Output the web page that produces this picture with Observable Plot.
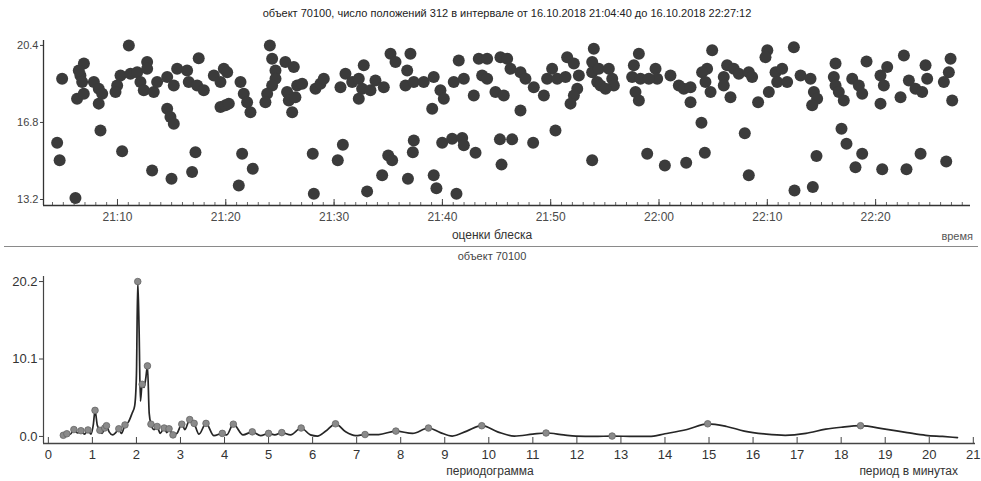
<!DOCTYPE html>
<html><head><meta charset="utf-8">
<script src="https://cdn.jsdelivr.net/npm/d3@7"></script>
<script src="https://cdn.jsdelivr.net/npm/@observablehq/plot@0.6"></script>
<style>
body{margin:0;background:#fff;font-family:"Liberation Sans",Arial,sans-serif;color:#333;}
#wrap{position:relative;width:981px;height:481px;overflow:hidden;background:#fff;}
#wrap svg{position:absolute;left:0;}
.lbl{position:absolute;white-space:nowrap;line-height:1;}
#sep{position:absolute;left:4px;width:974px;top:246px;height:0;border-top:1.5px solid #8a8a8a;}
</style></head><body><div id="wrap"><div id="sep"></div></div>
<script>
// ---------- brightness estimates (minutes after 21:00, magnitude) ----------
const brightMinute = [
11.05,17.5,6.9,12.74,4.89,6.58,6.43,6.74,7.82,8.27,8.59,6.27,6.89,8.27,8.43,10.28,9.97,9.82,11.2,11.82,
12.12,12.43,13.35,12.74,13.66,14.59,15.51,15.2,16.43,16.58,17.36,17.97,18.9,19.51,19.82,14.59,14.89,15.2,19.51,19.97,
4.43,4.66,6.12,10.43,13.2,14.99,16.89,17.2,
24.07,24.28,25.5,26.28,24.59,24.59,24.28,23.82,23.66,20.13,20.28,21.36,21.66,21.97,22.28,25.66,25.82,26.13,26.59,27.05,
26.43,28.28,28.74,29.05,31.05,30.59,31.67,32.28,32.74,32.59,32.28,33.36,33.82,34.59,35.21,35.67,37.05,36.75,36.59,
21.51,22.49,21.2,28.03,28.13,30.81,30.34,33.05,35.0,35.36,34.44,36.82,37.36,37.27,
37.36,38.28,39.2,39.82,40.13,39.06,41.51,41.05,41.98,42.9,43.36,44.13,43.67,44.13,44.9,45.67,45.36,45.98,46.29,47.21,
47.67,48.44,49.37,47.21,50.13,49.67,50.6,51.37,51.52,52.14,52.6,52.45,52.14,51.83,53.98,53.83,53.83,54.29,
39.2,39.45,41.3,39.98,40.9,41.83,41.98,43.06,45.31,46.44,45.46,48.38,50.44,53.83,
54.44,54.6,55.37,55.68,55.83,55.06,58.14,57.68,57.52,58.29,57.83,58.14,59.68,59.83,59.06,61.06,61.83,62.29,62.91,62.91,
64.91,64.44,63.98,64.29,64.76,66.29,65.98,65.98,66.9,67.37,68.29,68.6,66.6,70.0,69.83,70.76,70.91,70.14,69.15,
58.91,60.54,62.51,64.23,63.92,67.92,68.29,
72.45,71.37,71.83,73.07,73.99,74.3,74.6,74.14,76.3,76.14,76.3,76.6,77.06,77.84,78.45,78.76,79.16,80.45,81.07,80.76,
80.45,82.61,82.3,83.07,83.68,84.3,84.76,84.61,86.92,86.76,86.3,87.07,
76.85,77.31,78.76,78.14,80.61,82.85,84.15,86.52,74.54,72.51,74.2
];
const brightMag = [
20.4,19.8,19.55,19.62,18.84,19.0,19.23,18.69,18.69,18.38,18.14,17.91,18.14,17.68,16.43,19.0,18.53,18.22,19.08,19.15,
18.69,18.3,18.22,19.31,18.69,18.92,19.31,18.53,19.23,18.69,18.53,18.3,19.0,18.69,19.31,17.44,17.05,16.74,17.52,17.6,
15.85,15.03,13.27,15.45,14.56,14.17,14.48,15.41,
20.4,19.78,19.62,19.39,19.23,18.84,18.53,18.14,17.75,19.15,17.68,18.69,18.14,17.75,17.28,18.22,17.83,17.28,18.53,18.61,
17.98,18.38,18.61,18.84,19.08,18.45,18.69,18.84,19.47,18.38,17.91,18.3,18.76,18.45,20.01,19.62,20.01,19.23,18.53,
15.34,14.64,13.86,15.34,13.47,15.76,15.03,13.58,15.26,15.03,14.33,14.17,15.96,15.41,
18.69,18.69,18.92,18.3,17.91,17.44,19.7,18.69,18.84,18.06,19.78,19.78,19.0,18.84,18.22,18.06,19.85,19.78,19.31,19.15,
18.84,18.45,18.06,17.36,19.31,18.84,18.84,18.92,19.85,19.55,19.0,18.38,18.06,17.68,20.24,19.62,19.15,18.69,
14.33,13.73,13.47,15.85,16.04,16.07,15.73,15.39,16.01,16.01,14.83,15.85,16.43,15.03,
19.31,18.53,19.31,18.84,18.53,18.38,20.01,19.47,18.92,18.84,18.22,17.83,19.31,18.84,18.84,19.0,18.53,18.38,18.45,17.75,
20.17,19.31,19.15,18.69,18.22,19.47,18.92,18.53,19.31,19.08,19.15,18.92,17.98,20.17,19.85,19.15,18.69,18.22,17.75,
15.34,14.79,14.92,15.39,16.79,16.3,14.33,
20.32,19.31,18.69,19.0,18.84,18.22,17.91,17.6,19.55,18.92,18.53,18.22,17.83,18.84,18.53,18.14,19.65,19.0,19.39,18.53,
17.68,19.93,17.98,18.76,18.38,18.22,18.84,19.47,19.78,19.15,18.69,17.83,
16.51,15.81,15.34,14.71,14.61,14.61,15.34,14.98,15.23,13.62,13.78
];
const topYTicks = [13.2, 16.8, 20.4];
const topXTickMinutes = [10, 20, 30, 40, 50, 60, 70, 80];
const topXTickLabels = ["21:10","21:20","21:30","21:40","21:50","22:00","22:10","22:20"];

// ---------- periodogram ----------
const periodMin = [
0.34,0.42,0.50,0.58,0.66,0.74,0.82,0.90,0.97,1.02,1.06,1.11,1.17,1.22,1.28,1.32,1.38,1.46,1.53,1.60,
1.66,1.74,1.82,1.90,1.96,2.00,2.03,2.06,2.09,2.13,2.17,2.21,2.25,2.29,2.33,2.40,2.47,2.54,2.63,2.69,
2.74,2.83,2.92,3.03,3.10,3.21,3.31,3.42,3.58,3.76,3.95,4.05,4.20,4.42,4.63,4.82,5.00,5.14,5.30,5.50,
5.74,5.95,6.11,6.30,6.52,6.75,6.98,7.19,7.50,7.89,8.27,8.63,8.90,9.17,9.50,9.84,10.20,10.58,11.00,11.30,
11.70,11.98,12.40,12.80,13.30,13.64,14.00,14.50,14.97,15.40,15.80,16.30,16.73,17.20,17.65,18.00,18.44,19.00,19.50,19.92,
20.30,20.64
];
const periodPower = [
0.15,0.35,0.30,0.90,0.45,0.75,0.30,0.85,0.30,1.5,3.4,1.5,0.8,0.4,1.1,1.4,0.6,0.2,0.5,1.0,
0.4,1.5,1.9,3.0,4.0,8.0,20.2,14.0,4.6,6.8,6.4,7.5,9.2,3.0,1.6,0.9,1.3,0.4,1.1,0.5,
1.0,0.2,0.4,1.6,0.9,2.2,1.7,0.3,1.7,0.1,0.4,0.2,1.6,0.2,0.6,0.1,0.4,0.2,0.5,0.2,
1.1,0.2,0.05,0.7,1.65,0.6,0.1,0.25,0.25,0.7,0.4,1.1,0.5,0.05,0.7,1.4,0.6,0.05,0.3,0.45,
0.2,0.05,0.0,0.05,0.0,0.0,0.35,0.9,1.65,1.3,0.7,0.3,0.15,0.4,0.95,1.2,1.4,0.95,0.5,0.15,
0.0,-0.15
];
const peakPeriod = [0.34,0.42,0.58,0.74,0.90,1.06,1.17,1.28,1.32,1.60,1.74,2.03,2.13,2.25,2.33,2.47,2.63,2.74,2.83,3.03,3.21,3.31,3.58,3.95,4.20,4.63,5.00,5.30,5.74,6.52,7.19,7.89,8.63,9.84,11.30,12.80,14.97,18.44];
const peakPower  = [0.15,0.35,0.90,0.75,0.85,3.4,0.8,1.1,1.4,1.0,1.5,20.2,6.8,9.2,1.6,1.3,1.1,1.0,0.2,1.6,2.2,1.7,1.7,0.4,1.6,0.6,0.4,0.5,1.1,1.65,0.25,0.7,1.1,1.4,0.45,0.05,1.65,1.4];
const botYTicks = [0, 10.1, 20.2];
const botXTicks = [0,1,2,3,4,5,6,7,8,9,10,11,12,13,14,15,16,17,18,19,20,21];

// ---------- texts ----------
const titleText = "объект 70100,  число положений 312  в интервале от 16.10.2018 21:04:40 до 16.10.2018 22:27:12";
const topCaption = "оценки блеска";
const topAxisLabel = "время";
const botTitle = "объект 70100";
const botCaption = "периодограмма";
const botAxisLabel = "период в минутах";

// ---------- build ----------
const wrap = document.getElementById("wrap");
const font = '"Liberation Sans", Arial, sans-serif';
const t0 = Date.UTC(2018, 9, 16, 21, 0, 0);
const toDate = m => new Date(t0 + m * 60000);
const bright = brightMinute.map((m, i) => ({t: toDate(m), v: brightMag[i]}));
const topXDomain = [toDate(3.17), toDate(88.76)];
const topYDomain = [12.92, 20.63];
const majorDates = topXTickMinutes.map(toDate);
const minorDates = d3.utcMinute.range(toDate(4), toDate(88.5));
const topFrameH = 220 - 15 - 40;

const topPlot = Plot.plot({
  width: 981, height: 220,
  marginLeft: 43, marginRight: 11, marginTop: 15, marginBottom: 40,
  style: {fontFamily: font, fontSize: "12px", color: "#3a3a3a", background: "transparent", overflow: "visible"},
  x: {type: "utc", domain: topXDomain},
  y: {domain: topYDomain},
  marks: [
    Plot.tickX(minorDates, {x: d => d, insetTop: topFrameH - 3, stroke: "#666", strokeWidth: 1}),
    Plot.tickX(majorDates, {x: d => d, insetTop: topFrameH - 6, stroke: "#444", strokeWidth: 1}),
    Plot.axisX({ticks: majorDates, tickSize: 0, tickPadding: 7, tickFormat: (d, i) => topXTickLabels[i], label: null, fill: "#4a4a4a"}),
    Plot.axisY({ticks: topYTicks, tickSize: 3, tickPadding: 2, tickFormat: d => d.toFixed(1), label: null, stroke: "#444", fill: "#444", fontSize: 11}),
    Plot.ruleX([topXDomain[0]], {stroke: "#333", strokeWidth: 1.3}),
    Plot.ruleY([topYDomain[0]], {stroke: "#333", strokeWidth: 1.6}),
    Plot.dot(bright, {x: "t", y: "v", r: 6, fill: "#3b3b3b", stroke: "none"})
  ]
});
topPlot.style.top = "25px";
wrap.appendChild(topPlot);

const curve = periodMin.map((p, i) => ({p, v: periodPower[i]}));
const peaks = peakPeriod.map((p, i) => ({p, v: peakPower[i]}));
const botXDomain = [-0.11, 21.05];
const botYDomain = [-0.92, 20.86];
const botFrameH = 200 - 11 - 22;
const botPlot = Plot.plot({
  width: 981, height: 200,
  marginLeft: 43, marginRight: 6, marginTop: 11, marginBottom: 22,
  style: {fontFamily: font, fontSize: "13px", color: "#3a3a3a", background: "transparent", overflow: "visible"},
  x: {domain: botXDomain},
  y: {domain: botYDomain},
  marks: [
    Plot.tickX(botXTicks, {x: d => d, insetTop: botFrameH - 6, stroke: "#444", strokeWidth: 1}),
    Plot.axisX({ticks: botXTicks, tickSize: 0, tickPadding: 6, tickFormat: d => String(d), label: null, fill: "#333"}),
    Plot.axisY({ticks: botYTicks, tickSize: 4, tickPadding: 2, tickFormat: d => d.toFixed(1), label: null, stroke: "#444", fill: "#333"}),
    Plot.ruleX([botXDomain[0]], {stroke: "#444", strokeWidth: 1.2}),
    Plot.ruleY([botYDomain[0]], {stroke: "#444", strokeWidth: 1.6}),
    Plot.line(curve, {x: "p", y: "v", curve: "monotone-x", stroke: "#262626", strokeWidth: 1.7}),
    Plot.dot(peaks, {x: "p", y: "v", r: 3.3, fill: "#8a8a8a", stroke: "#666", strokeWidth: 0.8})
  ]
});
botPlot.style.top = "265px";
wrap.appendChild(botPlot);

function place(text, x, y, anchor, size, color) {
  const d = document.createElement("div");
  d.className = "lbl";
  d.textContent = text;
  d.style.fontSize = size + "px";
  d.style.color = color;
  d.style.top = (y - size * 0.55) + "px";
  d.style.left = x + "px";
  d.style.transform = anchor === "middle" ? "translateX(-50%)" : anchor === "end" ? "translateX(-100%)" : "none";
  wrap.appendChild(d);
}
place(titleText, 507, 14, "middle", 11, "#222");
place(topCaption, 492, 236, "middle", 12, "#333");
place(topAxisLabel, 973, 237, "end", 11, "#555");
place(botTitle, 492, 257, "middle", 11, "#444");
place(botCaption, 490, 472, "middle", 12, "#333");
place(botAxisLabel, 958, 472, "end", 12, "#333");
</script></body></html>
